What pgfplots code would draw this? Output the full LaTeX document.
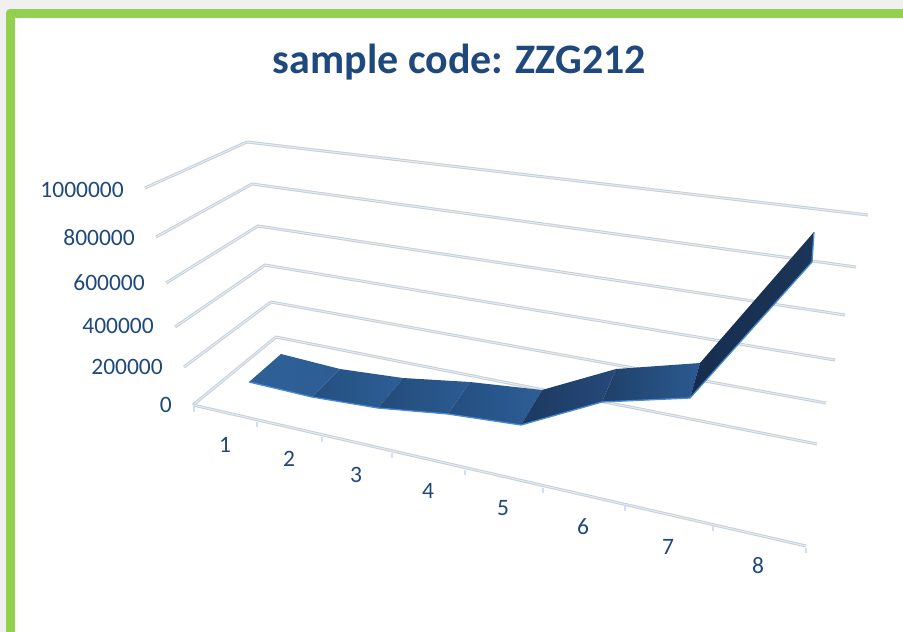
\documentclass[border=0pt]{standalone}
\usepackage{pgfplots}
\usepackage{fontspec}
\setmainfont{Carlito}
\pgfplotsset{compat=1.18}
\definecolor{txt}{HTML}{1F497D}
\definecolor{frame}{HTML}{92D050}
\definecolor{outer}{HTML}{F0F0F0}
\definecolor{gridc}{HTML}{C6D0DA}
\definecolor{gridi}{HTML}{E6EBF0}
\definecolor{tickc}{HTML}{D0E0F4}
\definecolor{edge}{HTML}{4A8AD0}
\definecolor{a1}{HTML}{2E6098}\definecolor{b1}{HTML}{2D5D94}
\definecolor{a2}{HTML}{24507F}\definecolor{b2}{HTML}{2D5E96}
\definecolor{a3}{HTML}{234B7A}\definecolor{b3}{HTML}{2C5C93}
\definecolor{a4}{HTML}{244E80}\definecolor{b4}{HTML}{2D5E96}
\definecolor{a5}{HTML}{1C3A61}\definecolor{b5}{HTML}{26497A}
\definecolor{a6}{HTML}{1F4069}\definecolor{b6}{HTML}{2B5A90}
\definecolor{a7}{HTML}{162D4E}\definecolor{b7}{HTML}{1B3558}
\begin{document}
\begin{tikzpicture}
\begin{axis}[
  hide axis, scale only axis,
  width=903pt, height=632pt,
  xmin=0, xmax=903, ymin=0, ymax=632, y dir=reverse,
  grid line/.style={draw=gridc, line width=1pt, double=gridi, double distance=1pt, line join=round},
  rib/.style={draw=none, forget plot},
]
% picture frame
\fill[outer] (axis cs:0,0) rectangle (axis cs:903,632);
\fill[frame, rounded corners=4pt] (axis cs:6,9) rectangle (axis cs:930,660);
\fill[white] (axis cs:15,18) rectangle (axis cs:930,660);

% value gridlines in the perspective of the 3-D chart: 1000000 ... 0
\addplot[grid line] coordinates {(145,188) (247,142) (868,215)};
\addplot[grid line] coordinates {(156,237) (252,184) (856,267)};
\addplot[grid line] coordinates {(166,283) (258,226) (845,315)};
\addplot[grid line] coordinates {(175,327) (265,265) (835,360)};
\addplot[grid line] coordinates {(184,367) (271,302) (826,403)};
\addplot[grid line] coordinates {(193,405) (276,337) (817,444)};
\addplot[grid line] coordinates {(193,405) (806,546)};
% category ticks
\addplot[tickc, line width=1.4pt] coordinates {(194,407) (194,412)};
\addplot[tickc, line width=1.4pt] coordinates {(257,422) (257,427)};
\addplot[tickc, line width=1.4pt] coordinates {(322,437) (322,442)};
\addplot[tickc, line width=1.4pt] coordinates {(392,453) (392,458)};
\addplot[tickc, line width=1.4pt] coordinates {(465,470) (465,475)};
\addplot[tickc, line width=1.4pt] coordinates {(543,488) (543,493)};
\addplot[tickc, line width=1.4pt] coordinates {(625,506) (625,511)};
\addplot[tickc, line width=1.4pt] coordinates {(713,526) (713,531)};
\addplot[tickc, line width=1.4pt] coordinates {(806,548) (806,553)};

% ribbon of the 3-D line: one panel between each pair of categories
\addplot[rib, left color=a1, right color=b1] coordinates {(249,382) (281,354) (340,369) (312,397)} -- cycle;
\addplot[rib, left color=a2, right color=b2] coordinates {(312,397) (340,369) (403,378) (378,408)} -- cycle;
\addplot[rib, left color=a3, right color=b3] coordinates {(378,408) (403,378) (470,382) (448,414)} -- cycle;
\addplot[rib, left color=a4, right color=b4] coordinates {(448,414) (470,382) (542,390) (521,425)} -- cycle;
\addplot[rib, left color=a5, right color=b5] coordinates {(521,425) (542,390) (616,369) (602,402)} -- cycle;
\addplot[rib, left color=a6, right color=b6] coordinates {(602,402) (616,369) (700,363) (690,398)} -- cycle;
\addplot[rib, left color=a7, right color=b7] coordinates {(690,398) (700,363) (814,232) (812,262)} -- cycle;
\addplot[edge, line width=1.3pt, line join=round, forget plot] coordinates {(249,382) (312,397) (378,408) (448,414) (521,425) (602,402) (690,398) (812,262) (814,232)};

% value axis labels
\foreach \xx/\yy/\lab in {124/190/1000000,135/238/800000,145/283/600000,154/326/400000,163/367/200000,172/405/0}{
  \edef\temp{\noexpand\node[anchor=east, inner sep=0pt, text=txt, font=\noexpand\fontsize{23.5}{23.5}\noexpand\selectfont] at (axis cs:\xx,\yy) {\lab};}
  \temp
}
% category labels
\foreach \xx/\yy/\lab in {225/445/1,289/459/2,356/475/3,428/491/4,503/508/5,583/527/6,668/547/7,758/566/8}{
  \edef\temp{\noexpand\node[inner sep=0pt, text=txt, font=\noexpand\fontsize{23.5}{23.5}\noexpand\selectfont] at (axis cs:\xx,\yy) {\lab};}
  \temp
}
\node[inner sep=0pt, text=txt, font=\fontsize{42}{42}\selectfont\bfseries] at (axis cs:459.5,62) {sample code: ZZG212};
\end{axis}
\end{tikzpicture}
\end{document}
